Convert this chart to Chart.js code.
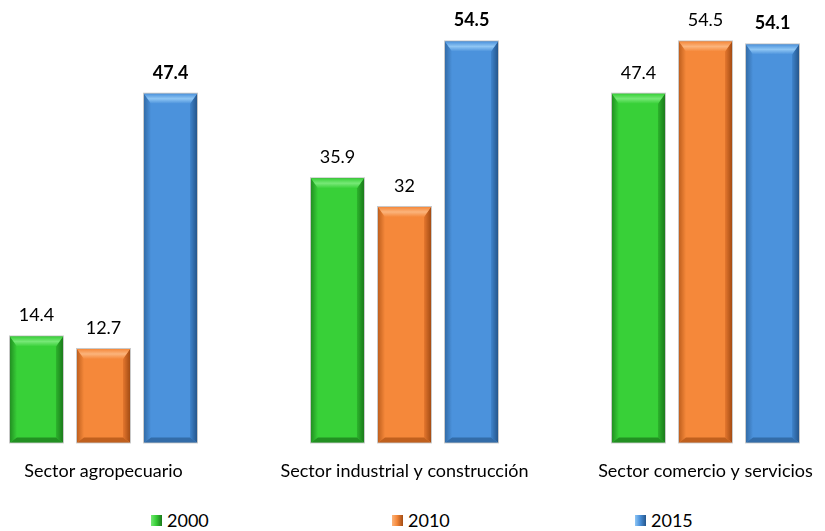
<!DOCTYPE html>
<html lang="es">
<head>
<meta charset="utf-8">
<title>Sectores</title>
<script src="https://cdn.jsdelivr.net/npm/chart.js@4.4.1/dist/chart.umd.min.js"></script>
<style>
  html, body { margin: 0; padding: 0; background: #fff; overflow: hidden; width: 825px; height: 531px; }
  #wrap { position: absolute; left: -47px; top: 0; width: 903px; height: 500px; }
  .legend { position: absolute; top: 511px; left: 0; width: 825px; height: 20px; font: 18px/18px Lato, sans-serif; color: #000; }
  .legend .item { position: absolute; top: 0; white-space: nowrap; }
  .legend i { display: inline-block; width: 11px; height: 11px; margin-right: 5px; vertical-align: 1px; }
</style>
</head>
<body>
<div id="wrap"><canvas id="sectores"></canvas></div>
<div class="legend" id="legend"></div>
<script>
const categories = ["Sector agropecuario", "Sector industrial y construcción", "Sector comercio y servicios"];
const years = ["2000", "2010", "2015"];
const values2000 = [14.4, 35.9, 47.4];
const values2010 = [12.7, 32, 54.5];
const values2015 = [47.4, 54.5, 54.1];
const yMax = 60;

// body / bevel tones per series
const shades = [
  { body: "#38d038", light: "#76e876", side: "#2cb42c", dark: "#1b7a1b", foot: "#229022" },
  { body: "#f5883a", light: "#fbb47c", side: "#e5772e", dark: "#a44c14", foot: "#c0601e" },
  { body: "#4b92dc", light: "#8fc6f4", side: "#3f84cc", dark: "#25568c", foot: "#336ca8" }
];
const legendLeft = [151, 392, 635];

function poly(ctx, pts, fill) {
  ctx.beginPath();
  ctx.moveTo(pts[0][0], pts[0][1]);
  for (let k = 1; k < pts.length; k++) ctx.lineTo(pts[k][0], pts[k][1]);
  ctx.closePath();
  ctx.fillStyle = fill;
  ctx.fill();
}

// draws the raised bevel faces on top of each plain bar
const bevelBars = {
  id: "bevelBars",
  afterDatasetsDraw(chart) {
    const ctx = chart.ctx;
    chart.data.datasets.forEach((ds, i) => {
      const s = shades[i];
      chart.getDatasetMeta(i).data.forEach(bar => {
        const p = bar.getProps(["x", "y", "base", "width"], true);
        const x0 = p.x - p.width / 2, x1 = p.x + p.width / 2;
        const y0 = p.y, y1 = p.base;
        const b = 7, bt = 10, bb = 5;
        ctx.save();

        const rg = ctx.createLinearGradient(x1 - b, 0, x1, 0);
        rg.addColorStop(0, s.side);
        rg.addColorStop(1, s.dark);
        poly(ctx, [[x1 - b, y0 + bt], [x1, y0], [x1, y1], [x1 - b, y1 - bb]], rg);

        const lg = ctx.createLinearGradient(x0, 0, x0 + b, 0);
        lg.addColorStop(0, s.foot);
        lg.addColorStop(1, s.body);
        poly(ctx, [[x0, y0], [x0 + b, y0 + bt], [x0 + b, y1 - bb], [x0, y1]], lg);

        const tg = ctx.createLinearGradient(0, y0, 0, y0 + bt);
        tg.addColorStop(0, s.body);
        tg.addColorStop(0.5, s.light);
        tg.addColorStop(1, s.body);
        poly(ctx, [[x0, y0], [x1, y0], [x1 - b, y0 + bt], [x0 + b, y0 + bt]], tg);

        poly(ctx, [[x0, y1], [x1, y1], [x1 - b, y1 - bb], [x0 + b, y1 - bb]], s.foot);

        ctx.strokeStyle = "rgba(0,0,0,0.22)";
        ctx.lineWidth = 1;
        ctx.strokeRect(x0 - 0.5, y0 - 0.5, p.width + 1, y1 - y0 + 1);
        ctx.restore();
      });
    });
  }
};

// value written above every bar, the 2015 series in bold
const valueLabels = {
  id: "valueLabels",
  afterDatasetsDraw(chart) {
    const ctx = chart.ctx;
    ctx.save();
    ctx.fillStyle = "#000";
    ctx.textAlign = "center";
    ctx.textBaseline = "alphabetic";
    chart.data.datasets.forEach((ds, i) => {
      ctx.font = (i === 2 ? "bold " : "") + "18px Lato, sans-serif";
      chart.getDatasetMeta(i).data.forEach((bar, j) => {
        ctx.fillText(String(ds.data[j]), bar.x, bar.y - 15);
      });
    });
    ctx.restore();
  }
};

const series = [values2000, values2010, values2015];

new Chart(document.getElementById("sectores"), {
  type: "bar",
  data: {
    labels: categories,
    datasets: series.map((vals, i) => ({
      label: years[i],
      data: vals,
      backgroundColor: shades[i].body,
      borderWidth: 0,
      categoryPercentage: 0.668,
      barPercentage: 0.79
    }))
  },
  options: {
    responsive: true,
    maintainAspectRatio: false,
    animation: false,
    layout: { padding: { top: 1, left: 0, right: 0, bottom: 0 } },
    plugins: {
      legend: { display: false },
      tooltip: { enabled: false }
    },
    scales: {
      x: {
        grid: { display: false, drawTicks: false },
        border: { display: false },
        ticks: {
          color: "#000",
          font: { family: "Lato", size: 18 },
          padding: 18,
          maxRotation: 0,
          autoSkip: false
        }
      },
      y: {
        display: false,
        min: 0,
        max: yMax
      }
    }
  },
  plugins: [bevelBars, valueLabels]
});

// legend row under the chart
const legendEl = document.getElementById("legend");
years.forEach((yr, i) => {
  const s = shades[i];
  const item = document.createElement("span");
  item.className = "item";
  item.style.left = legendLeft[i] + "px";
  const sw = document.createElement("i");
  sw.style.background = "linear-gradient(to right, " + s.light + ", " + s.body + " 45%, " + s.dark + ")";
  item.appendChild(sw);
  item.appendChild(document.createTextNode(yr));
  legendEl.appendChild(item);
});
</script>
</body>
</html>
